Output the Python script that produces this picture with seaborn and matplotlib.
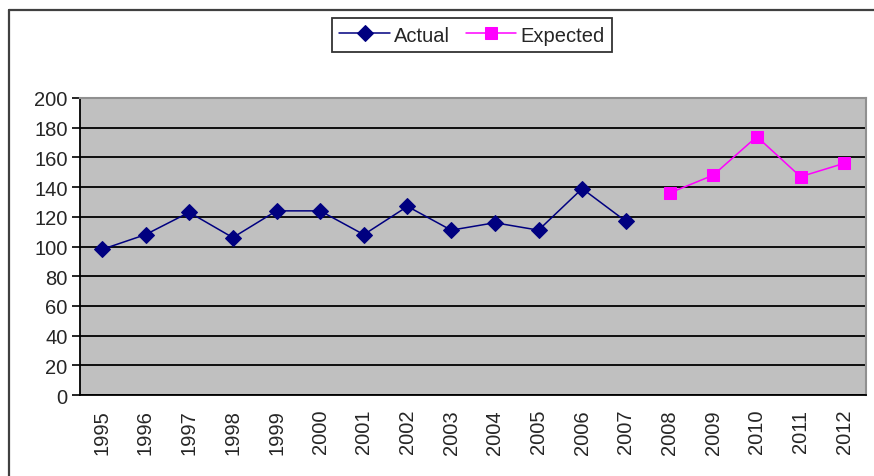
import matplotlib
matplotlib.use("Agg")
import matplotlib.pyplot as plt
import seaborn as sns
from matplotlib.lines import Line2D

years = [str(y) for y in range(1995, 2013)]
actual_years = years[:13]
actual = [98, 108, 123, 106, 124, 124, 108, 127, 111, 116, 111, 139, 117]
expected_years = years[13:]
expected = [136, 148, 174, 147, 156]

sns.set_style("white")
plt.rcParams["font.family"] = ["Liberation Sans", "DejaVu Sans"]

W, H = 874, 477
fig = plt.figure(figsize=(W / 100, H / 100), dpi=100)
ax = fig.add_axes([80 / W, 1 - 396 / H, 786 / W, 297 / H])
ax.set_facecolor("#c0c0c0")

pos = {y: i for i, y in enumerate(years)}
sns.lineplot(x=[pos[y] for y in actual_years], y=actual, ax=ax, color="#000080",
             marker="D", markersize=8, markeredgecolor="#000080", linewidth=1.1,
             label="Actual", legend=False)
sns.lineplot(x=[pos[y] for y in expected_years], y=expected, ax=ax, color="#ff00ff",
             marker="s", markersize=8, markeredgecolor="#ff00ff", linewidth=1.1,
             label="Expected", legend=False)

ax.set_xlim(-0.5, len(years) - 0.5)
ax.set_ylim(0, 200)
ax.set_yticks(range(0, 201, 20))
ax.set_xticks(range(len(years)))
ax.set_xticklabels(years, rotation=90)
ax.set_xticks([i - 0.5 for i in range(len(years) + 1)], minor=True)
ax.tick_params(axis="x", which="major", length=0, labelsize=14.5, pad=10)
ax.tick_params(axis="x", which="minor", length=5, width=1.2, color="black", direction="out")
ax.tick_params(axis="y", length=6, width=1.2, color="black", direction="out",
               labelsize=14.5, pad=3, left=True)
ax.yaxis.grid(True, color="black", linewidth=1.3)
ax.set_axisbelow(True)
ax.set_xlabel("")
ax.set_ylabel("")
for side in ["left", "bottom"]:
    ax.spines[side].set_color("black")
    ax.spines[side].set_linewidth(1.3)
for side in ["right", "top"]:
    ax.spines[side].set_color("#909090")
    ax.spines[side].set_linewidth(1.5)

handles, labels = ax.get_legend_handles_labels()
leg = fig.legend(handles, labels, loc="center", ncol=2,
                 bbox_to_anchor=(472 / W, 1 - 36 / H), fontsize=14.5,
                 frameon=True, fancybox=False, edgecolor="black",
                 handlelength=2.5, handletextpad=0.2, columnspacing=0.8,
                 borderpad=0.35, borderaxespad=0)
leg.get_frame().set_linewidth(1.3)

fig.add_artist(Line2D([8.5 / W, 1], [1 - 10.5 / H, 1 - 10.5 / H],
                      transform=fig.transFigure, color="#404040", linewidth=1.6))
fig.add_artist(Line2D([8.5 / W, 8.5 / W], [0, 1 - 10.5 / H],
                      transform=fig.transFigure, color="#404040", linewidth=1.6))

fig.savefig("out.png", dpi=100)
